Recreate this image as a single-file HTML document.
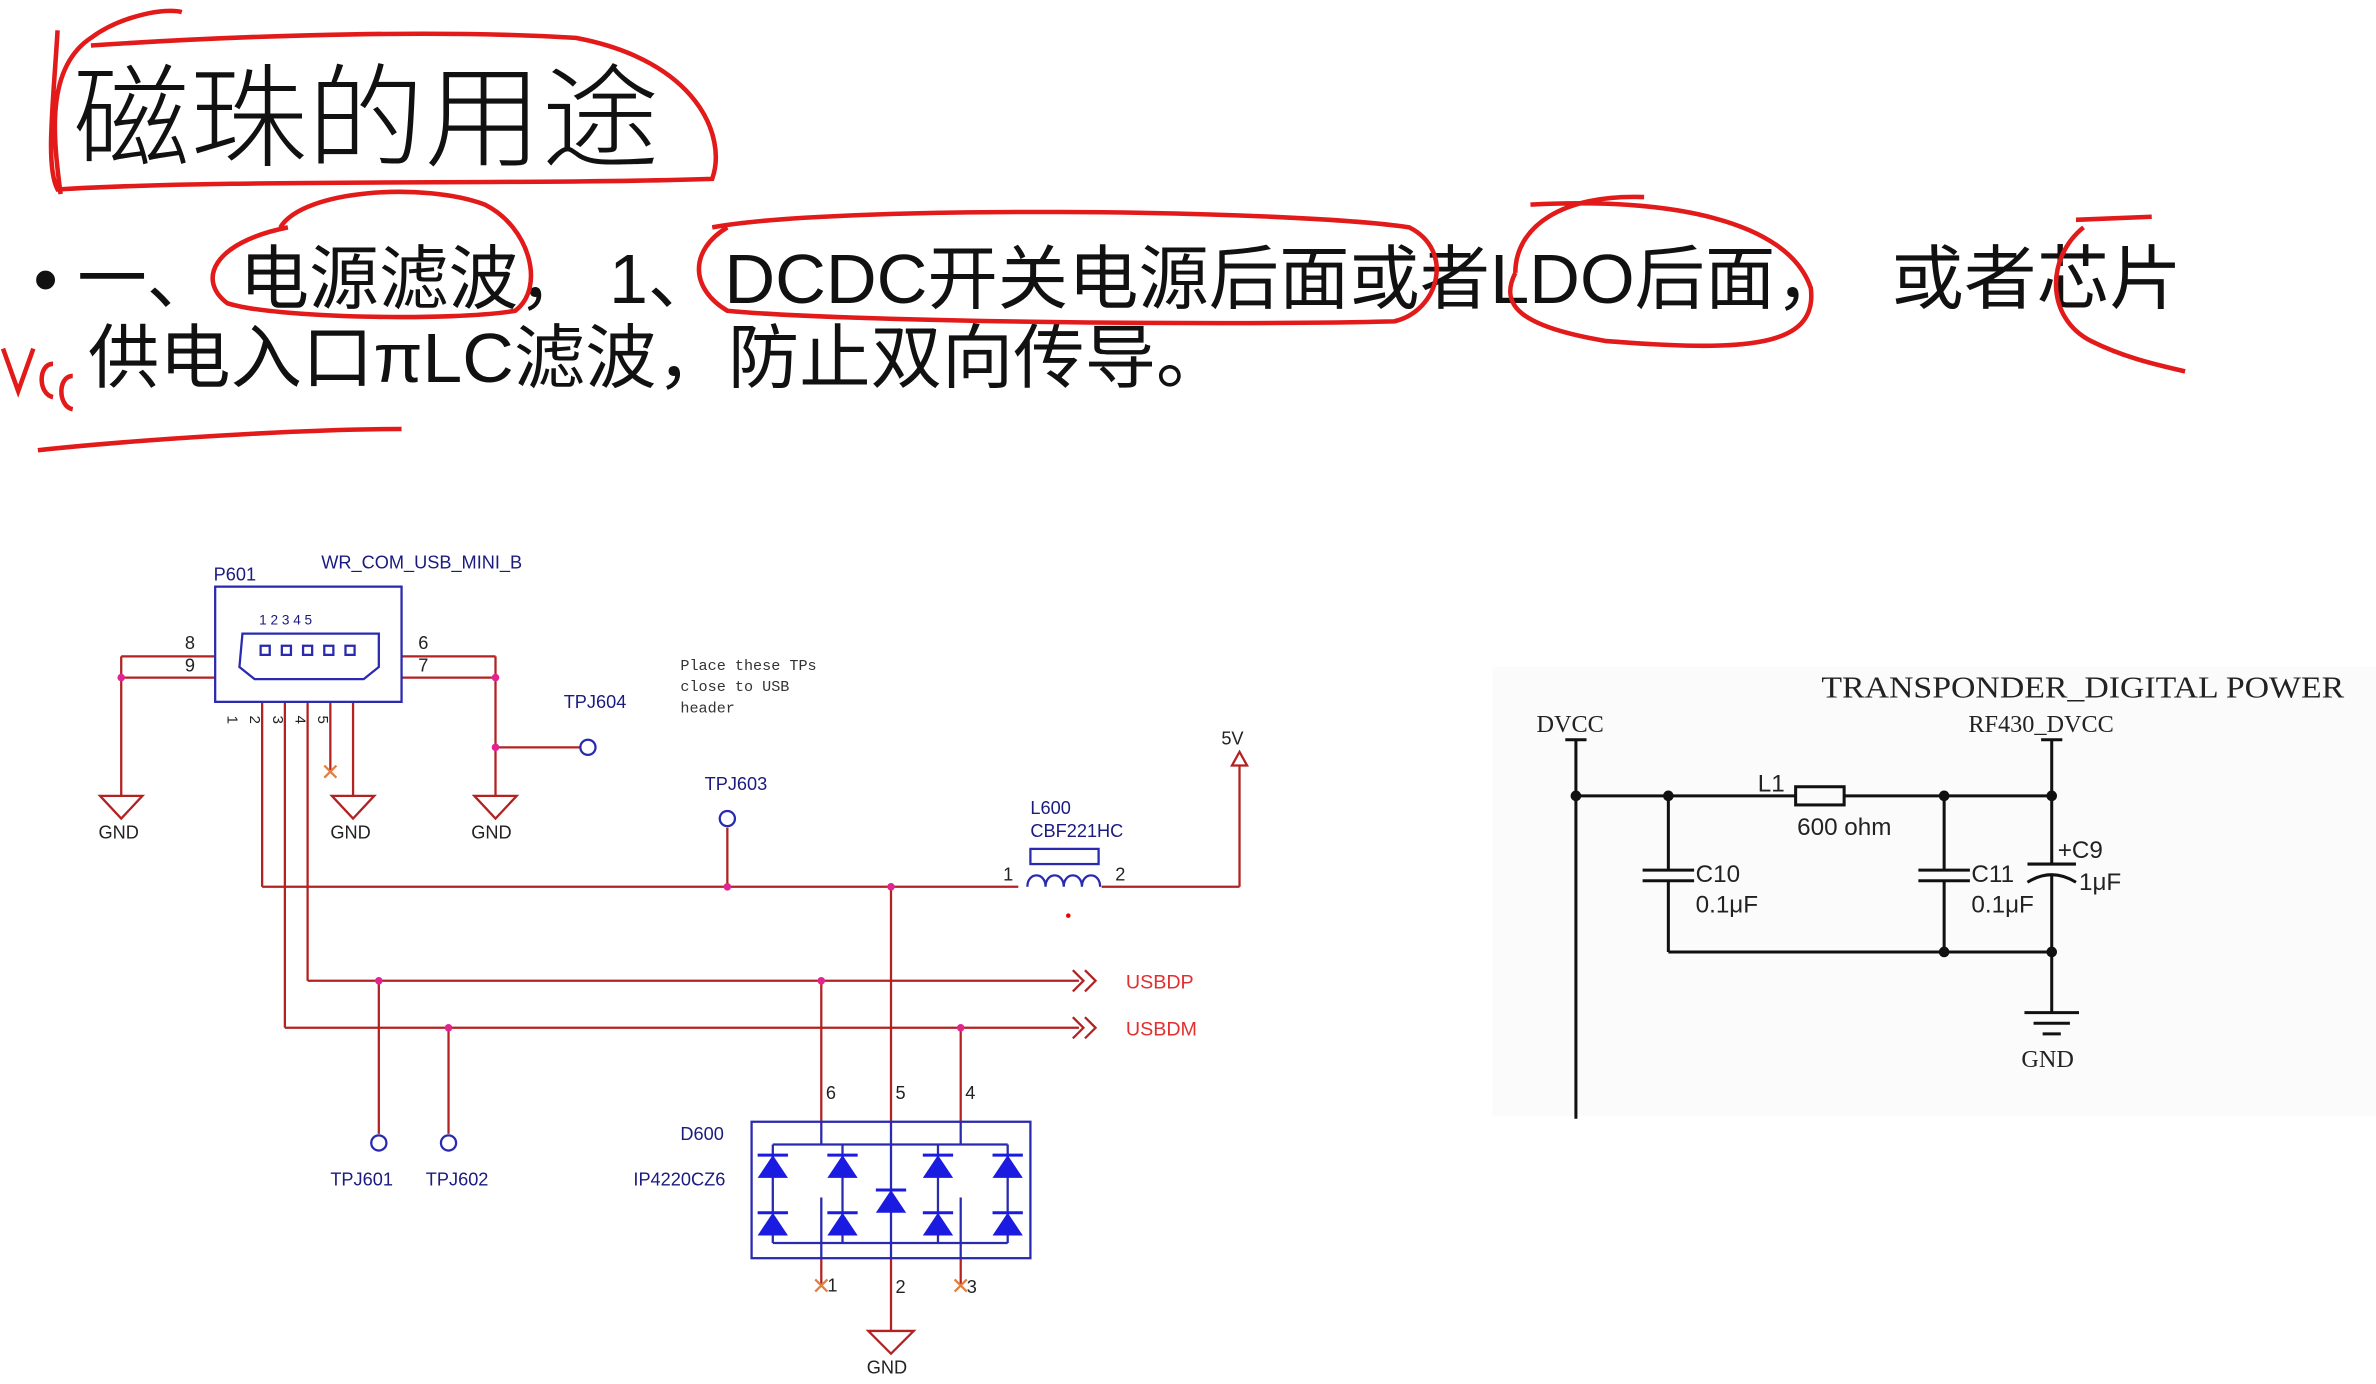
<!DOCTYPE html>
<html><head><meta charset="utf-8"><style>
html,body{margin:0;padding:0;background:#fff;}
svg{display:block;}
</style></head><body>
<svg width="2376" height="1384" viewBox="0 0 1568 913" preserveAspectRatio="none" xmlns="http://www.w3.org/2000/svg" font-family="Liberation Sans, Noto Sans CJK SC, sans-serif">
<rect width="1568" height="913" fill="#fff"/>
<!-- Title -->
<text x="48" y="104" font-size="74" fill="#111" font-family="Noto Sans CJK SC, sans-serif" font-weight="200" textLength="387" lengthAdjust="spacingAndGlyphs">磁珠的用途</text>
<path d="M40 128 C35 90 30 45 60 25 C80 10 110 5 120 8 M38 20 C35 70 30 110 38 125 C150 118 350 122 470 118 C480 90 460 40 380 25 C300 20 180 22 60 30" fill="none" stroke="#e21a1a" stroke-width="3"/>
<!-- Bullet text -->
<g font-size="46" fill="#111" font-family="Liberation Sans, Noto Sans CJK SC, sans-serif">
<text x="22" y="200">• 一、</text>
<text x="158" y="200" textLength="230" lengthAdjust="spacingAndGlyphs">电源滤波，</text>
<text x="402" y="200">1、</text>
<text x="478" y="200" textLength="740" lengthAdjust="spacingAndGlyphs">DCDC开关电源后面或者LDO后面，</text>
<text x="1248" y="200" textLength="192" lengthAdjust="spacingAndGlyphs">或者芯片</text>
<text x="58" y="252" textLength="752" lengthAdjust="spacingAndGlyphs">供电入口πLC滤波，防止双向传导。</text>
</g>
<g fill="none" stroke="#e21a1a" stroke-width="3">
<path d="M185 150 C200 125 280 120 320 135 C350 150 360 190 340 205 C300 212 180 210 150 200 C130 185 140 160 190 150"/>
<path d="M470 150 C550 135 850 138 930 150 C960 165 950 205 920 212 C800 215 550 212 480 205 C455 190 455 165 480 150"/>
<path d="M1000 180 C1000 150 1030 128 1085 130 M1010 135 C1100 130 1180 145 1195 190 C1200 230 1150 232 1060 225 C1000 215 990 200 1000 180"/>
<path d="M1370 145 L1420 143 M1375 150 C1350 170 1350 210 1380 225 C1400 235 1420 240 1442 245"/>
<path d="M25 297 C90 290 200 283 265 283"/>
<path d="M2 230 L12 258 L22 230 M35 240 C25 240 25 260 35 262 M48 248 C38 248 38 268 48 270"/>
</g>

<!-- Left schematic -->
<g stroke="#b22222" stroke-width="1.5" fill="none">
<line x1="80" y1="433" x2="142" y2="433"/><line x1="80" y1="447" x2="142" y2="447"/>
<line x1="80" y1="433" x2="80" y2="525"/>
<line x1="265" y1="433" x2="327" y2="433"/><line x1="265" y1="447" x2="327" y2="447"/>
<line x1="327" y1="433" x2="327" y2="525"/>
<line x1="327" y1="493" x2="383" y2="493"/>
<line x1="173" y1="463" x2="173" y2="585"/>
<line x1="188" y1="463" x2="188" y2="678"/>
<line x1="203" y1="463" x2="203" y2="647"/>
<line x1="218" y1="463" x2="218" y2="510"/>
<line x1="233" y1="463" x2="233" y2="525"/>
<line x1="173" y1="585" x2="672" y2="585"/>
<line x1="727" y1="585" x2="818" y2="585"/><line x1="818" y1="585" x2="818" y2="505"/>
<line x1="480" y1="585" x2="480" y2="546"/>
<line x1="588" y1="585" x2="588" y2="740"/>
<line x1="203" y1="647" x2="712" y2="647"/>
<line x1="188" y1="678" x2="712" y2="678"/>
<line x1="250" y1="647" x2="250" y2="748"/>
<line x1="296" y1="678" x2="296" y2="748"/>
<line x1="542" y1="647" x2="542" y2="740"/>
<line x1="634" y1="678" x2="634" y2="740"/>
<line x1="542" y1="830" x2="542" y2="848"/><line x1="634" y1="830" x2="634" y2="848"/>
<line x1="588" y1="830" x2="588" y2="878"/>
<path d="M708 640 L715 647 L708 654 M716 640 L723 647 L716 654"/>
<path d="M708 671 L715 678 L708 685 M716 671 L723 678 L716 685"/>
<path d="M66 525 L94 525 L80 540 Z M219 525 L247 525 L233 540 Z M313 525 L341 525 L327 540 Z M573 878 L603 878 L588 893 Z"/>
<path d="M813 505 L818 496 L823 505 Z"/>
<path d="M214 505 L222 513 M222 505 L214 513 M538 844 L546 852 M546 844 L538 852 M630 844 L638 852 M638 844 L630 852" stroke="#e08040"/>
</g>
<g fill="#e0258f">
<circle cx="80" cy="447" r="2.5"/><circle cx="327" cy="447" r="2.5"/><circle cx="327" cy="493" r="2.5"/>
<circle cx="480" cy="585" r="2.5"/><circle cx="588" cy="585" r="2.5"/><circle cx="250" cy="647" r="2.5"/>
<circle cx="542" cy="647" r="2.5"/><circle cx="296" cy="678" r="2.5"/><circle cx="634" cy="678" r="2.5"/>
<circle cx="705" cy="604" r="1.5" fill="#e00"/>
</g>
<g stroke="#2a2ab0" stroke-width="1.5" fill="none">
<rect x="142" y="387" width="123" height="76"/>
<path d="M160 418 L250 418 L250 440 L240 448 L168 448 L158 440 Z"/>
<rect x="172" y="426" width="6" height="6"/><rect x="186" y="426" width="6" height="6"/><rect x="200" y="426" width="6" height="6"/><rect x="214" y="426" width="6" height="6"/><rect x="228" y="426" width="6" height="6"/>
<circle cx="388" cy="493" r="5"/><circle cx="480" cy="540" r="5"/>
<circle cx="250" cy="754" r="5"/><circle cx="296" cy="754" r="5"/>
<rect x="680" y="560" width="45" height="10"/>
<path d="M678 585 C678 575 690 575 690 585 C690 575 702 575 702 585 C702 575 714 575 714 585 C714 575 726 575 726 585"/>
<rect x="496" y="740" width="184" height="90"/>
<path d="M510 755 L665 755 M510 820 L665 820 M510 755 L510 820 M556 755 L556 820 M619 755 L619 820 M665 755 L665 820 M542 740 L542 755 M634 740 L634 755 M588 740 L588 820 M542 790 L542 830 M634 790 L634 830 M588 820 L588 830"/>
</g>
<g fill="#1a1ae0">
<path d="M500 777 L520 777 L510 762 Z M546 777 L566 777 L556 762 Z M609 777 L629 777 L619 762 Z M655 777 L675 777 L665 762 Z"/>
<path d="M500 815 L520 815 L510 800 Z M546 815 L566 815 L556 800 Z M609 815 L629 815 L619 800 Z M655 815 L675 815 L665 800 Z"/>
<path d="M578 800 L598 800 L588 785 Z"/>
</g>
<g stroke="#1a1ae0" stroke-width="2"><path d="M500 762 L520 762 M546 762 L566 762 M609 762 L629 762 M655 762 L675 762 M500 800 L520 800 M546 800 L566 800 M609 800 L629 800 M655 800 L675 800 M578 785 L598 785"/></g>
<g font-size="12" fill="#1a1a80">
<text x="141" y="383">P601</text><text x="212" y="375">WR_COM_USB_MINI_B</text>
<text x="372" y="467">TPJ604</text><text x="465" y="521">TPJ603</text>
<text x="680" y="537">L600</text><text x="680" y="552">CBF221HC</text>
<text x="218" y="782">TPJ601</text><text x="281" y="782">TPJ602</text>
<text x="449" y="752">D600</text><text x="418" y="782">IP4220CZ6</text>
</g>
<g font-size="12" fill="#222">
<text x="122" y="428">8</text><text x="122" y="443">9</text><text x="276" y="428">6</text><text x="276" y="443">7</text>
<text x="65" y="553">GND</text><text x="218" y="553">GND</text><text x="311" y="553">GND</text><text x="572" y="906">GND</text>
<text x="806" y="491">5V</text><text x="662" y="581">1</text><text x="736" y="581">2</text>
<text x="545" y="725">6</text><text x="591" y="725">5</text><text x="637" y="725">4</text>
<text x="546" y="852">1</text><text x="591" y="853">2</text><text x="638" y="853">3</text>
<text x="160" y="482" transform="rotate(90 160 472)" font-size="10">1</text>
<text x="175" y="482" transform="rotate(90 175 472)" font-size="10">2</text>
<text x="190" y="482" transform="rotate(90 190 472)" font-size="10">3</text>
<text x="205" y="482" transform="rotate(90 205 472)" font-size="10">4</text>
<text x="220" y="482" transform="rotate(90 220 472)" font-size="10">5</text>
<text x="171" y="412" font-size="9" fill="#1a1a80">1 2 3 4 5</text>
</g>
<g font-size="10" fill="#333" font-family="Liberation Mono, monospace">
<text x="449" y="442">Place these TPs</text><text x="449" y="456">close to USB</text><text x="449" y="470">header</text>
</g>
<text x="743" y="652" font-size="13" fill="#e03030">USBDP</text>
<text x="743" y="683" font-size="13" fill="#e03030">USBDM</text>

<!-- Right schematic -->
<rect x="985" y="440" width="583" height="296" fill="#fbfbfb"/>
<g stroke="#111" stroke-width="2" fill="none">
<line x1="1040" y1="488" x2="1040" y2="738"/>
<line x1="1033" y1="488" x2="1047" y2="488"/>
<line x1="1040" y1="525" x2="1185" y2="525"/>
<rect x="1185" y="519" width="32" height="12"/>
<line x1="1217" y1="525" x2="1354" y2="525"/>
<line x1="1354" y1="488" x2="1354" y2="570"/><line x1="1347" y1="488" x2="1361" y2="488"/>
<line x1="1101" y1="525" x2="1101" y2="574"/><line x1="1101" y1="581" x2="1101" y2="628"/>
<line x1="1084" y1="574" x2="1118" y2="574"/><line x1="1084" y1="581" x2="1118" y2="581"/>
<line x1="1283" y1="525" x2="1283" y2="574"/><line x1="1283" y1="581" x2="1283" y2="628"/>
<line x1="1266" y1="574" x2="1300" y2="574"/><line x1="1266" y1="581" x2="1300" y2="581"/>
<line x1="1338" y1="570" x2="1370" y2="570"/>
<path d="M1338 582 Q1354 572 1370 582"/>
<line x1="1354" y1="577" x2="1354" y2="668"/>
<line x1="1101" y1="628" x2="1354" y2="628"/>
<line x1="1336" y1="668" x2="1372" y2="668"/><line x1="1342" y1="675" x2="1366" y2="675"/><line x1="1348" y1="682" x2="1360" y2="682"/>
</g>
<g fill="#111"><circle cx="1040" cy="525" r="3.5"/><circle cx="1101" cy="525" r="3.5"/><circle cx="1283" cy="525" r="3.5"/><circle cx="1354" cy="525" r="3.5"/><circle cx="1283" cy="628" r="3.5"/><circle cx="1354" cy="628" r="3.5"/></g>
<g font-family="Liberation Serif, serif" fill="#222">
<text x="1202" y="460" font-size="20" textLength="345" lengthAdjust="spacingAndGlyphs">TRANSPONDER_DIGITAL POWER</text>
<text x="1014" y="483" font-size="16">DVCC</text><text x="1299" y="483" font-size="16">RF430_DVCC</text>
<text x="1334" y="704" font-size="16">GND</text>
</g>
<g fill="#222" font-size="16">
<text x="1160" y="522">L1</text><text x="1186" y="551">600 ohm</text>
<text x="1119" y="582">C10</text><text x="1119" y="602">0.1μF</text>
<text x="1301" y="582">C11</text><text x="1301" y="602">0.1μF</text>
<text x="1358" y="566">+C9</text><text x="1372" y="587">1μF</text>
</g>
</svg>
</body></html>
